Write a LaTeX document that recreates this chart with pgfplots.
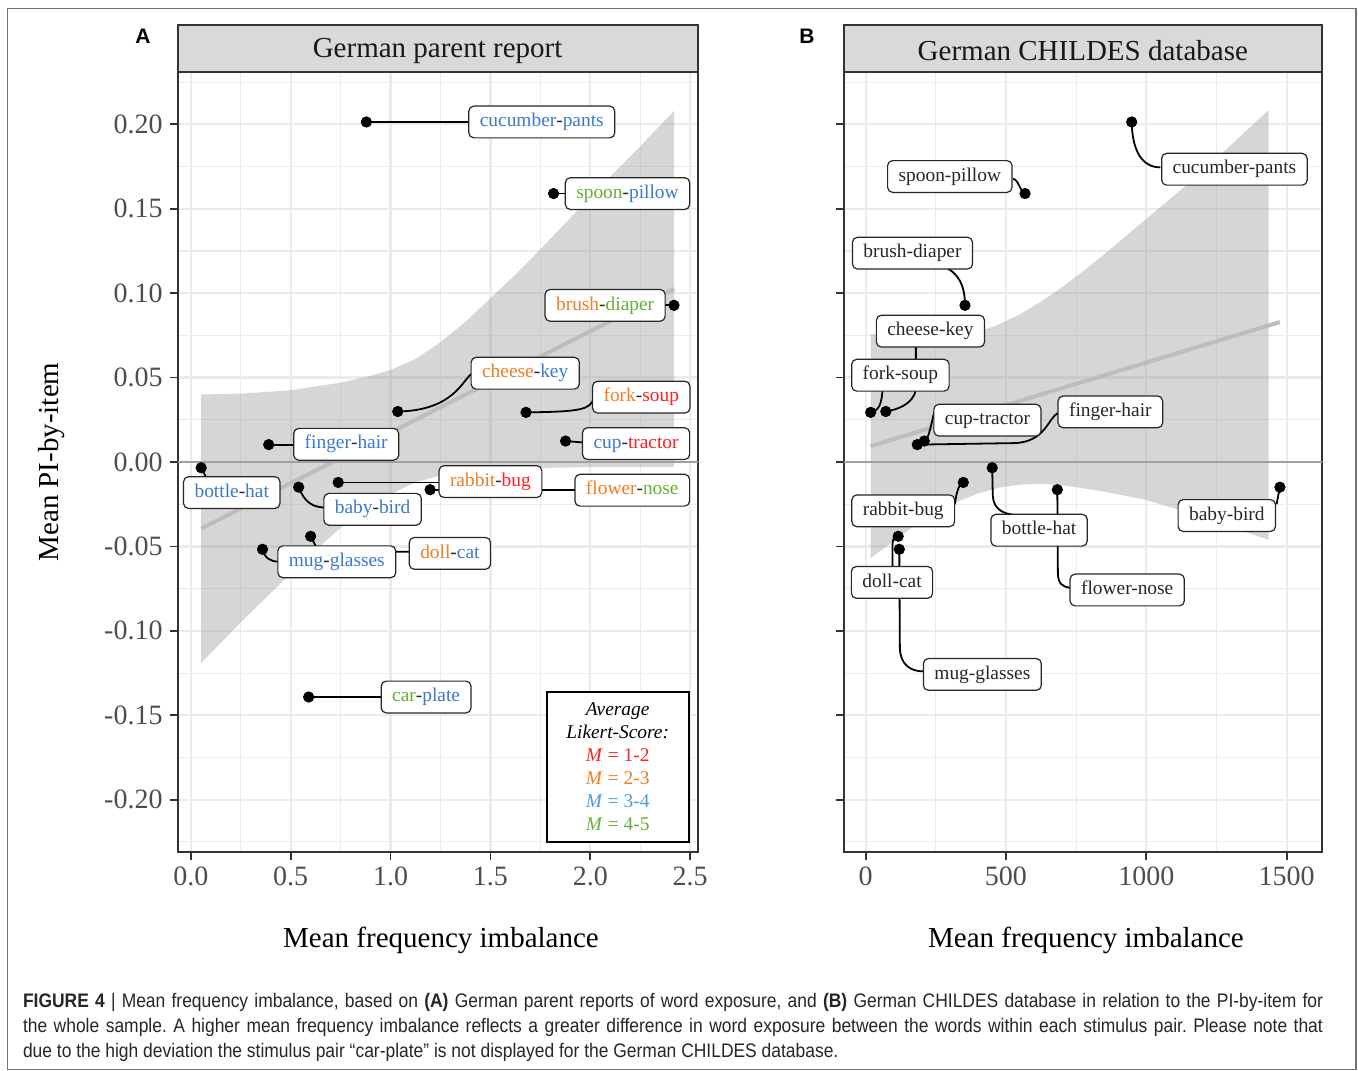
\documentclass[border=0pt]{standalone}
\usepackage{fontspec}
\setmainfont{Liberation Serif}
\newfontfamily\capfont[FakeStretch=0.89]{Liberation Sans}
\newfontfamily\panelfont{Liberation Sans}
\usepackage{pgfplots}
\pgfplotsset{compat=1.18}

\definecolor{lred}{HTML}{FF1F1F}
\definecolor{lorange}{HTML}{F07D22}
\definecolor{lblue}{HTML}{3C78D0}
\definecolor{lgreen}{HTML}{66AE36}
\definecolor{legblue}{HTML}{4A9BE0}
\definecolor{gridc}{HTML}{EBEBEB}
\definecolor{grey20}{HTML}{333333}
\definecolor{grey30}{HTML}{4D4D4D}
\definecolor{stripc}{HTML}{D9D9D9}
\definecolor{fitc}{HTML}{BDBDBD}
\definecolor{zeroc}{HTML}{A0A0A0}

\tikzset{
  lbl/.style={draw=black!85, fill=white, rounded corners=2.5pt, line width=0.6pt,
    inner xsep=5.5pt, inner ysep=3.3pt, text=black!85,
    font=\fontsize{9.7}{10}\selectfont, text height=7pt, text depth=2.3pt},
  seg/.style={black, line width=0.9pt},
}
\newcommand{\lab}[3]{\node[lbl] at (axis cs:#1,#2) {#3};}
\newcommand{\cw}[2]{\textcolor{#1}{#2}}

\pgfplotsset{
  panel/.style={
    scale only axis, height=390pt,
    ymin=-0.231, ymax=0.231,
    ytick={-0.2,-0.15,-0.1,-0.05,0,0.05,0.1,0.15,0.2},
    minor ytick={-0.225,-0.175,-0.125,-0.075,-0.025,0.025,0.075,0.125,0.175,0.225},
    grid=both,
    major grid style={draw=gridc, line width=1.1pt},
    minor grid style={draw=gridc, line width=0.55pt},
    axis line style={draw=grey20, line width=0.9pt},
    tick style={draw=grey20, line width=0.9pt},
    tick align=outside, major tick length=4pt, minor tick length=0pt,
    xtick pos=left, ytick pos=left,
    ticklabel style={font=\fontsize{14}{14}\selectfont, text=grey30},
    clip=false,
  },
  band/.style={fill=black!40, fill opacity=0.4, draw=none},
  fit/.style={fitc, line width=2pt},
  zero/.style={zeroc, line width=0.9pt},
  pts/.style={only marks, mark=*, mark size=2.6pt, black},
}

\begin{document}
\begin{tikzpicture}
\useasboundingbox (0pt,0pt) rectangle (679pt,-535pt);
\draw[black!55, line width=0.7pt] (3.7pt,-4.2pt) rectangle (678pt,-534.6pt);

% ---------------- panel A ----------------
\begin{axis}[panel, at={(88.8pt,-36pt)}, anchor=north west,
  width=260pt, xmin=-0.066, xmax=2.537,
  xtick={0,0.5,1,1.5,2,2.5}, minor xtick={0.25,0.75,1.25,1.75,2.25},
  xticklabels={0.0,0.5,1.0,1.5,2.0,2.5},
  yticklabels={-0.20,-0.15,-0.10,-0.05,0.00,0.05,0.10,0.15,0.20}]
% confidence band: upper edge left to right, lower edge right to left
\addplot[band] coordinates {
  (0.052,0.0400) (0.25,0.0405) (0.5,0.0425) (0.75,0.047) (0.9,0.051) (1.0,0.0545)
  (1.125,0.061) (1.25,0.071) (1.375,0.083) (1.5,0.097) (1.625,0.111) (1.75,0.126)
  (2.0,0.157) (2.25,0.187) (2.419,0.208)
  (2.419,-0.003) (2.25,-0.003) (2.0,-0.003) (1.75,-0.0035) (1.5,-0.0045)
  (1.25,-0.008) (1.125,-0.012) (1.0,-0.019) (0.875,-0.028) (0.75,-0.039)
  (0.625,-0.052) (0.5,-0.066) (0.25,-0.095) (0.052,-0.119)} -- cycle;
\addplot[fit] coordinates {(0.052,-0.0394) (2.419,0.1026)};
\addplot[zero] coordinates {(-0.066,0) (2.537,0)};

% leader lines
\draw[seg] (axis cs:0.879,0.2014) -- (axis cs:1.40,0.2014);
\draw[seg] (axis cs:1.816,0.159) -- (axis cs:1.88,0.159);
\draw[seg] (axis cs:2.419,0.0928) -- (axis cs:2.37,0.0928);
\draw[seg] (axis cs:1.036,0.0299) .. controls (axis cs:1.32,0.0305) and (axis cs:1.36,0.049) .. (axis cs:1.41,0.0526);
\draw[seg] (axis cs:1.678,0.0294) .. controls (axis cs:1.96,0.0298) and (axis cs:2.00,0.031) .. (axis cs:2.02,0.0384);
\draw[seg] (axis cs:0.390,0.0103) -- (axis cs:0.53,0.0103);
\draw[seg] (axis cs:1.876,0.0124) -- (axis cs:1.97,0.0115);
\draw[seg] (axis cs:0.052,-0.0034) -- (axis cs:0.09,-0.012);
\draw[seg] (axis cs:0.540,-0.0149) .. controls (axis cs:0.57,-0.024) and (axis cs:0.61,-0.027) .. (axis cs:0.68,-0.027);
\draw[seg] (axis cs:0.738,-0.0121) -- (axis cs:1.25,-0.0121);
\draw[seg] (axis cs:1.198,-0.0164) -- (axis cs:1.93,-0.0164);
\draw[seg] (axis cs:0.600,-0.044) -- (axis cs:0.64,-0.0531) -- (axis cs:1.10,-0.0531);
\draw[seg] (axis cs:0.359,-0.0517) .. controls (axis cs:0.37,-0.057) and (axis cs:0.40,-0.059) .. (axis cs:0.44,-0.059);
\draw[seg] (axis cs:0.590,-0.1392) -- (axis cs:0.96,-0.1392);

\addplot[pts] coordinates {
  (0.879,0.2014) (1.816,0.159) (2.419,0.0928) (1.036,0.0299) (1.678,0.0294)
  (0.390,0.0103) (1.876,0.0124) (0.052,-0.0034) (0.540,-0.0149) (0.738,-0.0121)
  (1.198,-0.0164) (0.600,-0.044) (0.359,-0.0517) (0.590,-0.1392)};

\lab{1.757}{0.2014}{\cw{lblue}{cucumber}-\cw{lblue}{pants}}
\lab{2.186}{0.159}{\cw{lgreen}{spoon}-\cw{lblue}{pillow}}
\lab{2.074}{0.0928}{\cw{lorange}{brush}-\cw{lgreen}{diaper}}
\lab{1.674}{0.0526}{\cw{lorange}{cheese}-\cw{lblue}{key}}
\lab{2.255}{0.0384}{\cw{lorange}{fork}-\cw{lred}{soup}}
\lab{0.778}{0.0105}{\cw{lblue}{finger}-\cw{lblue}{hair}}
\lab{2.229}{0.0109}{\cw{lblue}{cup}-\cw{lred}{tractor}}
\lab{0.205}{-0.0181}{\cw{lblue}{bottle}-\cw{lblue}{hat}}
\lab{0.910}{-0.0280}{\cw{lblue}{baby}-\cw{lblue}{bird}}
\lab{1.500}{-0.0116}{\cw{lorange}{rabbit}-\cw{lred}{bug}}
\lab{2.210}{-0.0167}{\cw{lorange}{flower}-\cw{lgreen}{nose}}
\lab{1.297}{-0.0541}{\cw{lorange}{doll}-\cw{lblue}{cat}}
\lab{0.731}{-0.0591}{\cw{lblue}{mug}-\cw{lblue}{glasses}}
\lab{1.178}{-0.1392}{\cw{lgreen}{car}-\cw{lblue}{plate}}

\node[draw=black, line width=0.9pt, fill=white, minimum width=71pt, minimum height=75pt,
  align=center, inner sep=2pt, font=\fontsize{9.7}{11.5}\selectfont]
  at (axis cs:2.137,-0.1805)
  {\textit{Average}\\ \textit{Likert-Score:}\\
   \textcolor{lred}{\textit{M} = 1-2}\\ \textcolor{lorange}{\textit{M} = 2-3}\\
   \textcolor{legblue}{\textit{M} = 3-4}\\ \textcolor{lgreen}{\textit{M} = 4-5}};
\end{axis}

% ---------------- panel B ----------------
\begin{axis}[panel, at={(422pt,-36pt)}, anchor=north west,
  width=238.85pt, xmin=-77, xmax=1625,
  xtick={0,500,1000,1500}, minor xtick={250,750,1250},
  xticklabels={0,500,1000,1500}, yticklabels={,,,,,,,,}]
\addplot[band] coordinates {
  (18,0.0759) (100,0.0740) (250,0.0730) (400,0.0770) (475,0.0815) (550,0.0875)
  (625,0.0950) (700,0.1035) (775,0.1130) (850,0.1230) (1000,0.1440) (1150,0.1650)
  (1300,0.1875) (1436,0.2085)
  (1436,-0.0461) (1300,-0.0385) (1150,-0.0300) (1000,-0.0225) (850,-0.0175)
  (700,-0.0137) (625,-0.0130) (550,-0.0134) (475,-0.0152) (400,-0.0187)
  (325,-0.0237) (250,-0.0301) (175,-0.0378) (100,-0.0467) (18,-0.0569)} -- cycle;
\addplot[fit] coordinates {(18,0.0094) (1476,0.0829)};
\addplot[zero] coordinates {(-77,0) (1625,0)};

\draw[seg] (axis cs:948,0.2014) .. controls (axis cs:950,0.183) and (axis cs:990,0.1745) .. (axis cs:1050,0.1745);
\draw[seg] (axis cs:525,0.1677) .. controls (axis cs:545,0.1675) and (axis cs:550,0.160) .. (axis cs:568,0.159);
\draw[seg] (axis cs:277,0.116) .. controls (axis cs:330,0.112) and (axis cs:354,0.105) .. (axis cs:354,0.0928);
\draw[seg] (axis cs:179,0.072) -- (axis cs:179,0.043) .. controls (axis cs:170,0.034) and (axis cs:110,0.031) .. (axis cs:72,0.0299);
\draw[seg] (axis cs:61,0.045) .. controls (axis cs:58,0.033) and (axis cs:45,0.0305) .. (axis cs:18,0.0294);
\draw[seg] (axis cs:245,0.030) .. controls (axis cs:230,0.020) and (axis cs:225,0.0135) .. (axis cs:209,0.0124);
\draw[seg] (axis cs:184,0.0103) -- (axis cs:530,0.0112) .. controls (axis cs:640,0.0118) and (axis cs:650,0.026) .. (axis cs:685,0.0290);
\draw[seg] (axis cs:318,-0.025) .. controls (axis cs:325,-0.016) and (axis cs:335,-0.013) .. (axis cs:348,-0.0121);
\draw[seg] (axis cs:451,-0.0034) -- (axis cs:453,-0.020) .. controls (axis cs:456,-0.028) and (axis cs:490,-0.031) .. (axis cs:540,-0.0315);
\draw[seg] (axis cs:683,-0.0164) -- (axis cs:685,-0.066) .. controls (axis cs:686,-0.072) and (axis cs:700,-0.0738) .. (axis cs:728,-0.0745);
\draw[seg] (axis cs:1464,-0.025) -- (axis cs:1476,-0.0149);
\draw[seg] (axis cs:96,-0.065) -- (axis cs:96,-0.048) .. controls (axis cs:98,-0.045) and (axis cs:105,-0.044) .. (axis cs:116,-0.044);
\draw[seg] (axis cs:120,-0.0517) -- (axis cs:122,-0.110) .. controls (axis cs:123,-0.120) and (axis cs:160,-0.124) .. (axis cs:205,-0.124);

\addplot[pts] coordinates {
  (948,0.2014) (568,0.159) (354,0.0928) (72,0.0299) (18,0.0294)
  (184,0.0103) (209,0.0124) (451,-0.0034) (1476,-0.0149) (348,-0.0121)
  (683,-0.0164) (116,-0.044) (120,-0.0517)};

\lab{1314}{0.1734}{cucumber-pants}
\lab{300}{0.1691}{spoon-pillow}
\lab{167}{0.1237}{brush-diaper}
\lab{231}{0.0775}{cheese-key}
\lab{124}{0.0514}{fork-soup}
\lab{434}{0.0248}{cup-tractor}
\lab{872}{0.0297}{finger-hair}
\lab{134}{-0.0289}{rabbit-bug}
\lab{618}{-0.0404}{bottle-hat}
\lab{1287}{-0.0317}{baby-bird}
\lab{932}{-0.0758}{flower-nose}
\lab{94}{-0.0713}{doll-cat}
\lab{416}{-0.1258}{mug-glasses}
\end{axis}

% strips, titles, labels
\draw[fill=stripc, draw=grey20, line width=0.9pt] (88.8pt,-36pt) rectangle (348.8pt,-12.5pt);
\draw[fill=stripc, draw=grey20, line width=0.9pt] (422pt,-36pt) rectangle (660.85pt,-12.5pt);
\node[font=\fontsize{14.5}{14.5}\selectfont, text=black!90] at (218.8pt,-25.3pt) {German parent report};
\node[font=\fontsize{14.5}{14.5}\selectfont, text=black!90] at (541.4pt,-25.3pt) {German CHILDES database};
\node[font=\panelfont\bfseries\fontsize{10.5}{10.5}\selectfont] at (71.5pt,-18pt) {A};
\node[font=\panelfont\bfseries\fontsize{10.5}{10.5}\selectfont] at (403.5pt,-18pt) {B};
\node[font=\fontsize{14.5}{14.5}\selectfont] at (220.5pt,-470pt) {Mean frequency imbalance};
\node[font=\fontsize{14.5}{14.5}\selectfont] at (543pt,-470pt) {Mean frequency imbalance};
\node[font=\fontsize{14.5}{14.5}\selectfont, rotate=90] at (26pt,-231pt) {Mean PI-by-item};

\node[anchor=north west, inner sep=0pt, text width=650pt, align=justify, text=black!85,
  font=\capfont\fontsize{9.8}{12.5}\selectfont] at (11.3pt,-496.5pt)
  {\frenchspacing\textbf{FIGURE 4} | Mean frequency imbalance, based on \textbf{(A)} German parent reports of word exposure, and \textbf{(B)} German CHILDES database in relation to the PI-by-item for\linebreak
  the whole sample. A higher mean frequency imbalance reflects a greater difference in word exposure between the words within each stimulus pair. Please note that\linebreak
  due to the high deviation the stimulus pair \textquotedblleft car-plate\textquotedblright{} is not displayed for the German CHILDES database.};
\end{tikzpicture}
\end{document}
